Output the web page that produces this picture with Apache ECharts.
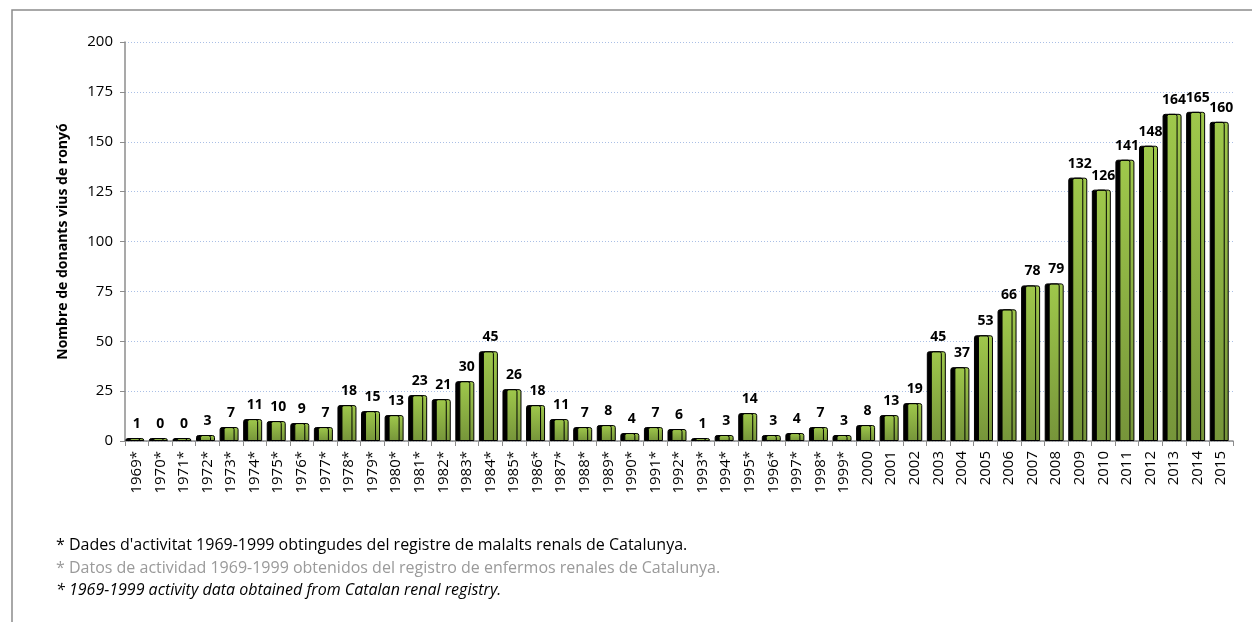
<!DOCTYPE html>
<html>
<head>
<meta charset="utf-8">
<script src="https://cdn.jsdelivr.net/npm/echarts@6/dist/echarts.min.js"></script>
<style>
  html, body { margin: 0; padding: 0; background: #fff; }
  #chart { width: 1252px; height: 622px; }
</style>
</head>
<body>
<div id="chart"></div>
<script>
// anys (amb * les dades del registre de malalts renals)
const years = ['1969*', '1970*', '1971*', '1972*', '1973*', '1974*', '1975*', '1976*', '1977*', '1978*',
  '1979*', '1980*', '1981*', '1982*', '1983*', '1984*', '1985*', '1986*', '1987*', '1988*',
  '1989*', '1990*', '1991*', '1992*', '1993*', '1994*', '1995*', '1996*', '1997*', '1998*', '1999*',
  '2000', '2001', '2002', '2003', '2004', '2005', '2006', '2007', '2008', '2009',
  '2010', '2011', '2012', '2013', '2014', '2015']
// donants vius de ronyó per any
const donors = [1, 0, 0, 3, 7, 11, 10, 9, 7, 18,
  15, 13, 23, 21, 30, 45, 26, 18, 11, 7,
  8, 4, 7, 6, 1, 3, 14, 3, 4, 7, 3,
  8, 13, 19, 45, 37, 53, 66, 78, 79, 132,
  126, 141, 148, 164, 165, 160]
const yTicks = [0, 25, 50, 75, 100, 125, 150, 175, 200]
const notes = [
  "* Dades d'activitat 1969-1999 obtingudes del registre de malalts renals de Catalunya.",
  '* Datos de actividad 1969-1999 obtenidos del registro de enfermos renales de Catalunya.',
  '* 1969-1999 activity data obtained from Catalan renal registry.'
]

const font = '"Open Sans", "Noto Sans", sans-serif'
const noteFont = '"Open Sans", "Noto Sans", sans-serif'

function draw () {
  const chart = echarts.init(document.getElementById('chart'))
  const option = {
    animation: false,
    textStyle: { fontFamily: font },
    grid: { left: 125, right: 19, top: 42, bottom: 181 },
    xAxis: {
      type: 'category',
      data: years,
      axisLine: { lineStyle: { color: '#8c8c8c', width: 1.5 } },
      axisTick: { show: true, length: 5, lineStyle: { color: '#8c8c8c' } },
      axisLabel: { rotate: 90, color: '#000', fontSize: 15, margin: 10, interval: 0, fontFamily: font }
    },
    yAxis: {
      type: 'value',
      min: yTicks[0],
      max: yTicks[yTicks.length - 1],
      interval: 25,
      name: 'Nombre de donants vius de ronyó',
      nameLocation: 'middle',
      nameGap: 55,
      nameTextStyle: { fontSize: 14, fontWeight: 'bold', color: '#000', fontFamily: font },
      axisLine: { show: true, lineStyle: { color: '#8c8c8c', width: 1.5 } },
      axisTick: { show: true, length: 5, lineStyle: { color: '#8c8c8c' } },
      axisLabel: { color: '#000', fontSize: 15, margin: 12, fontFamily: font },
      splitLine: { lineStyle: { color: '#aabfe6', type: [1, 2], width: 1 } }
    },
    series: [
      {
        type: 'bar',
        data: donors,
        barWidth: 15,
        barMinHeight: 3,
        itemStyle: {
          // verd amb degradat, ombra negra a l'esquerra
          color: new echarts.graphic.LinearGradient(0, 0, 0, 1, [
            { offset: 0, color: '#9fc84b' },
            { offset: 1, color: '#76953a' }
          ]),
          borderColor: '#000',
          borderWidth: 1,
          borderRadius: [2, 2, 0, 0],
          shadowColor: '#000',
          shadowOffsetX: -4,
          shadowOffsetY: 0,
          shadowBlur: 0
        },
        label: {
          show: true,
          position: 'top',
          distance: 7,
          color: '#000',
          fontSize: 14,
          fontWeight: 'bold',
          fontFamily: font
        }
      }
    ],
    graphic: [
      {
        type: 'rect',
        shape: { x: 12, y: 10, width: 1300, height: 700 },
        style: { fill: 'none', stroke: '#8c8c8c', lineWidth: 1.5 },
        silent: true
      },
      {
        type: 'text', left: 56, top: 537,
        style: { text: notes[0], fill: '#000', font: '16px ' + noteFont }
      },
      {
        type: 'text', left: 56, top: 560,
        style: { text: notes[1], fill: '#9a9a9a', font: '16px ' + noteFont }
      },
      {
        type: 'text', left: 56, top: 582,
        style: { text: notes[2], fill: '#000', font: 'italic 16px ' + noteFont }
      }
    ]
  }
  chart.setOption(option)
}

// esperar que les fonts locals estiguin carregades
Promise.all([
  document.fonts.load('14px "Open Sans"'),
  document.fonts.load('bold 14px "Open Sans"'),
  document.fonts.load('italic 16px "Open Sans"')
]).then(draw, draw)
</script>
</body>
</html>
